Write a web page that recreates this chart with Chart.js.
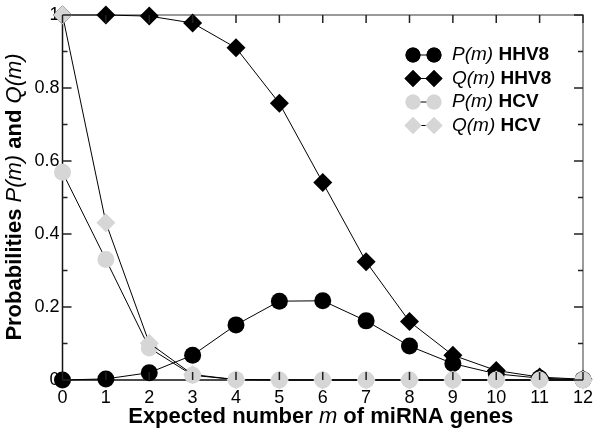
<!DOCTYPE html>
<html>
<head>
<meta charset="utf-8">
<script src="https://cdn.jsdelivr.net/npm/chart.js@4.4.1/dist/chart.umd.min.js"></script>
<style>
  html, body { margin: 0; padding: 0; background: #fff; }
  #wrap { width: 600px; height: 434px; position: relative; }
</style>
</head>
<body>
<div id="wrap"><canvas id="myChart" width="600" height="434"></canvas></div>
<script>
// expected number m of miRNA genes
var mValues = [0, 1, 2, 3, 4, 5, 6, 7, 8, 9, 10, 11, 12];
var pHHV8 = [0, 0.003, 0.02, 0.068, 0.151, 0.216, 0.217, 0.162, 0.093, 0.045, 0.017, 0.005, 0.001];
var qHHV8 = [1, 1, 0.997, 0.978, 0.91, 0.758, 0.541, 0.324, 0.16, 0.068, 0.026, 0.008, 0.002];
var pHCV = [0.569, 0.33, 0.088, 0.013, 0.001, 0, 0, 0, 0, 0, 0, 0, 0];
var qHCV = [1, 0.431, 0.101, 0.015, 0.001, 0, 0, 0, 0, 0, 0, 0, 0];
var yTicks = [0, 0.2, 0.4, 0.6, 0.8, 1];

var grey = 'rgb(214,214,214)';
var FONT = '"Liberation Sans", Arial, Helvetica, sans-serif';

function pts(vals) {
  return vals.map(function (v, i) { return { x: mValues[i], y: v }; });
}

function drawRuns(ctx, runs, x, y) {
  // runs: [[text, font]], centred on x
  var total = 0;
  runs.forEach(function (r) { ctx.font = r[1]; total += ctx.measureText(r[0]).width; });
  var cx = x - total / 2;
  runs.forEach(function (r) {
    ctx.font = r[1];
    ctx.fillText(r[0], cx, y);
    cx += ctx.measureText(r[0]).width;
  });
}

var framePlugin = {
  id: 'frame',
  beforeDatasetsDraw: function (chart) {
    var ctx = chart.ctx, a = chart.chartArea;
    ctx.save();
    ctx.lineWidth = 1.5;
    ctx.strokeStyle = '#7a7a7a';
    ctx.beginPath();
    ctx.moveTo(a.left, a.top); ctx.lineTo(a.right, a.top); ctx.lineTo(a.right, a.bottom);
    ctx.stroke();
    ctx.strokeStyle = '#111';
    ctx.beginPath();
    ctx.moveTo(a.left, a.top); ctx.lineTo(a.left, a.bottom); ctx.lineTo(a.right, a.bottom);
    ctx.stroke();
    ctx.restore();
  },
  afterDatasetsDraw: function (chart) {
    // inward ticks are drawn over the markers, as in the original
    var ctx = chart.ctx, a = chart.chartArea;
    var xs = chart.scales.x, ys = chart.scales.y;
    ctx.save();
    ctx.strokeStyle = '#222';
    ctx.lineWidth = 1.5;
    ctx.beginPath();
    mValues.forEach(function (m) {
      var px = xs.getPixelForValue(m);
      ctx.moveTo(px, a.bottom); ctx.lineTo(px, a.bottom - 8);
      ctx.moveTo(px, a.top); ctx.lineTo(px, a.top + 8);
    });
    for (var k = 0; k <= 10; k++) {
      var len = (k % 2 === 0) ? 9 : 5;
      var py = ys.getPixelForValue(k / 10);
      ctx.moveTo(a.left, py); ctx.lineTo(a.left + len, py);
      ctx.moveTo(a.right, py); ctx.lineTo(a.right - len, py);
    }
    ctx.stroke();
    ctx.restore();
  },
  afterDraw: function (chart) {
    var ctx = chart.ctx, a = chart.chartArea;
    var bold = 'bold 22px ' + FONT, ital = 'italic 22px ' + FONT;
    ctx.save();
    ctx.fillStyle = '#000';
    ctx.textBaseline = 'middle';
    ctx.textAlign = 'left';
    // x axis title
    drawRuns(ctx, [['Expected number ', bold], ['m', ital], [' of miRNA genes', bold]],
      (a.left + a.right) / 2 - 2, 417);
    // y axis title
    ctx.save();
    ctx.translate(15, 197);
    ctx.rotate(-Math.PI / 2);
    drawRuns(ctx, [['Probabilities ', bold], ['P(m)', ital], [' and ', bold], ['Q(m)', ital]], 0, 0);
    ctx.restore();

    // legend
    var entries = [
      { name: 'P(m)', virus: 'HHV8', color: '#000', shape: 'circle' },
      { name: 'Q(m)', virus: 'HHV8', color: '#000', shape: 'rectRot' },
      { name: 'P(m)', virus: 'HCV', color: grey, shape: 'circle' },
      { name: 'Q(m)', virus: 'HCV', color: grey, shape: 'rectRot' }
    ];
    var lf = 'italic 19px ' + FONT, lb = 'bold 19px ' + FONT;
    entries.forEach(function (e, i) {
      var y = 55 + i * 23.5;
      ctx.strokeStyle = '#000';
      ctx.lineWidth = 1;
      ctx.beginPath(); ctx.moveTo(413, y); ctx.lineTo(434, y); ctx.stroke();
      var opts = { pointStyle: e.shape, radius: e.shape === 'circle' ? 7.5 : 8.5, borderWidth: 0 };
      ctx.fillStyle = e.color;
      ctx.strokeStyle = e.color;
      Chart.helpers.drawPoint(ctx, opts, 413, y);
      ctx.fill();
      Chart.helpers.drawPoint(ctx, opts, 434, y);
      ctx.fill();
      ctx.fillStyle = '#000';
      ctx.font = lf;
      ctx.fillText(e.name + ' ', 452, y);
      var w = ctx.measureText(e.name + ' ').width;
      ctx.font = lb;
      ctx.fillText(e.virus, 452 + w, y);
    });
    ctx.restore();
  }
};

function series(label, vals, color, shape, radius, order) {
  return {
    label: label,
    data: pts(vals),
    borderColor: '#000',
    borderWidth: 1,
    pointStyle: shape,
    pointRadius: radius,
    pointHoverRadius: radius,
    pointBackgroundColor: color,
    pointBorderColor: color,
    pointBorderWidth: 0,
    fill: false,
    tension: 0,
    clip: false,
    order: order
  };
}

var chart = new Chart(document.getElementById('myChart').getContext('2d'), {
  type: 'line',
  data: {
    datasets: [
      series('P(m) HHV8', pHHV8, '#000', 'circle', 8.5, 4),
      series('Q(m) HHV8', qHHV8, '#000', 'rectRot', 9.5, 3),
      series('P(m) HCV', pHCV, grey, 'circle', 8.5, 2),
      series('Q(m) HCV', qHCV, grey, 'rectRot', 9.5, 1)
    ]
  },
  options: {
    responsive: false,
    animation: false,
    layout: { autoPadding: false, padding: { left: 0, right: 16, top: 15, bottom: 0 } },
    plugins: { legend: { display: false }, tooltip: { enabled: false } },
    scales: {
      x: {
        type: 'linear', min: 0, max: 12,
        afterFit: function (s) { s.height = 54; },
        grid: { display: false, drawTicks: false },
        border: { display: false },
        ticks: { stepSize: 1, padding: 7, color: '#000', font: { family: FONT, size: 18 } }
      },
      y: {
        min: 0, max: 1,
        afterFit: function (s) { s.width = 62.5; },
        afterBuildTicks: function (s) { s.ticks = yTicks.map(function (v) { return { value: v }; }); },
        grid: { display: false, drawTicks: false },
        border: { display: false },
        ticks: {
          padding: 3, color: '#000', font: { family: FONT, size: 18 },
          callback: function (v) { return String(v); }
        }
      }
    }
  },
  plugins: [framePlugin]
});
</script>
</body>
</html>
